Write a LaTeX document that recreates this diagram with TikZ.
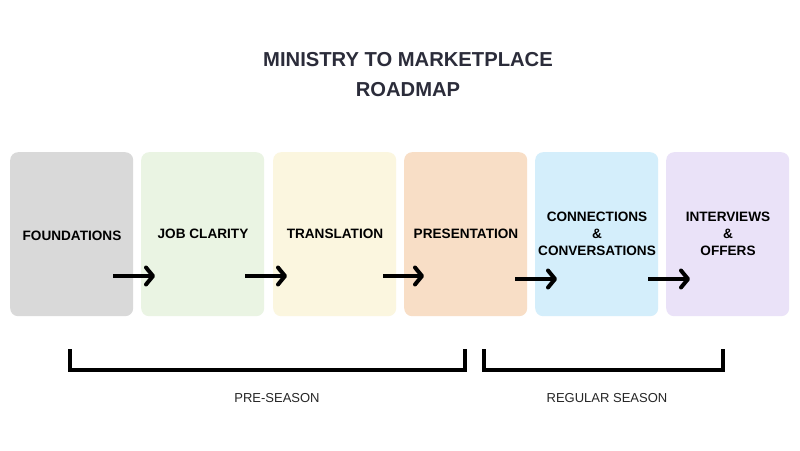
\documentclass[tikz,border=0pt]{standalone}
\usepackage{fontspec}
\setmainfont{Liberation Sans}
\usetikzlibrary{arrows.meta}
\definecolor{titlec}{HTML}{2B2C3A}
\definecolor{cA}{HTML}{D9D9D9}
\definecolor{cB}{HTML}{EAF4E3}
\definecolor{cC}{HTML}{FBF6DF}
\definecolor{cD}{HTML}{F8DEC6}
\definecolor{cE}{HTML}{D4EEFB}
\definecolor{cF}{HTML}{EAE2F8}
\tikzset{
  stagebox/.style={rounded corners=8pt, minimum width=123pt, minimum height=164pt, inner sep=0pt, anchor=north west},
  stagetext/.style={font=\bfseries\fontsize{13.6}{17}\selectfont, align=center, text=black},
  flowarrow/.style={line width=4pt, -{Straight Barb[length=7pt,width=17pt,round]}},
  bracketline/.style={line width=3.5pt, line cap=butt, line join=miter},
  seasontext/.style={font=\fontsize{13}{15}\selectfont, text=black!85}
}
\begin{document}
\begin{tikzpicture}[x=1pt,y=-1pt]
\useasboundingbox[fill=white] (0,0) rectangle (800,450);
\node[font=\bfseries\fontsize{20.2}{30}\selectfont, text=titlec, align=center] (title) at (408,75) {MINISTRY TO MARKETPLACE\\ROADMAP};
\node[stagebox, fill=cA] (b1) at (10,152) {};
\node[stagebox, fill=cB] (b2) at (141,152) {};
\node[stagebox, fill=cC] (b3) at (273,152) {};
\node[stagebox, fill=cD] (b4) at (404,152) {};
\node[stagebox, fill=cE] (b5) at (535,152) {};
\node[stagebox, fill=cF] (b6) at (666,152) {};
\node[stagetext] (t1) at (72,236) {FOUNDATIONS};
\node[stagetext] (t2) at (203,234) {JOB CLARITY};
\node[stagetext] (t3) at (335,234) {TRANSLATION};
\node[stagetext] (t4) at (466,234) {PRESENTATION};
\node[stagetext] (t5) at (597,234) {CONNECTIONS\\\&\\CONVERSATIONS};
\node[stagetext] (t6) at (728,234) {INTERVIEWS\\\&\\OFFERS};
\coordinate (a1s) at (113,276); \coordinate (a1e) at (155,276);
\coordinate (a2s) at (245,276); \coordinate (a2e) at (287,276);
\coordinate (a3s) at (383,276); \coordinate (a3e) at (424,276);
\coordinate (a4s) at (515,279); \coordinate (a4e) at (557,279);
\coordinate (a5s) at (648,279); \coordinate (a5e) at (690,279);
\draw[flowarrow] (a1s) -- (a1e);
\draw[flowarrow] (a2s) -- (a2e);
\draw[flowarrow] (a3s) -- (a3e);
\draw[flowarrow] (a4s) -- (a4e);
\draw[flowarrow] (a5s) -- (a5e);
\coordinate (p1) at (70,349); \coordinate (p2) at (70,370); \coordinate (p3) at (465,370); \coordinate (p4) at (465,349);
\draw[bracketline] (p1) -- (p2) -- (p3) -- (p4);
\coordinate (r1) at (484,349); \coordinate (r2) at (484,370); \coordinate (r3) at (723,370); \coordinate (r4) at (723,349);
\draw[bracketline] (r1) -- (r2) -- (r3) -- (r4);
\node[seasontext] (pre) at (277,398) {PRE-SEASON};
\node[seasontext] (reg) at (607,398) {REGULAR SEASON};
\end{tikzpicture}
\end{document}
